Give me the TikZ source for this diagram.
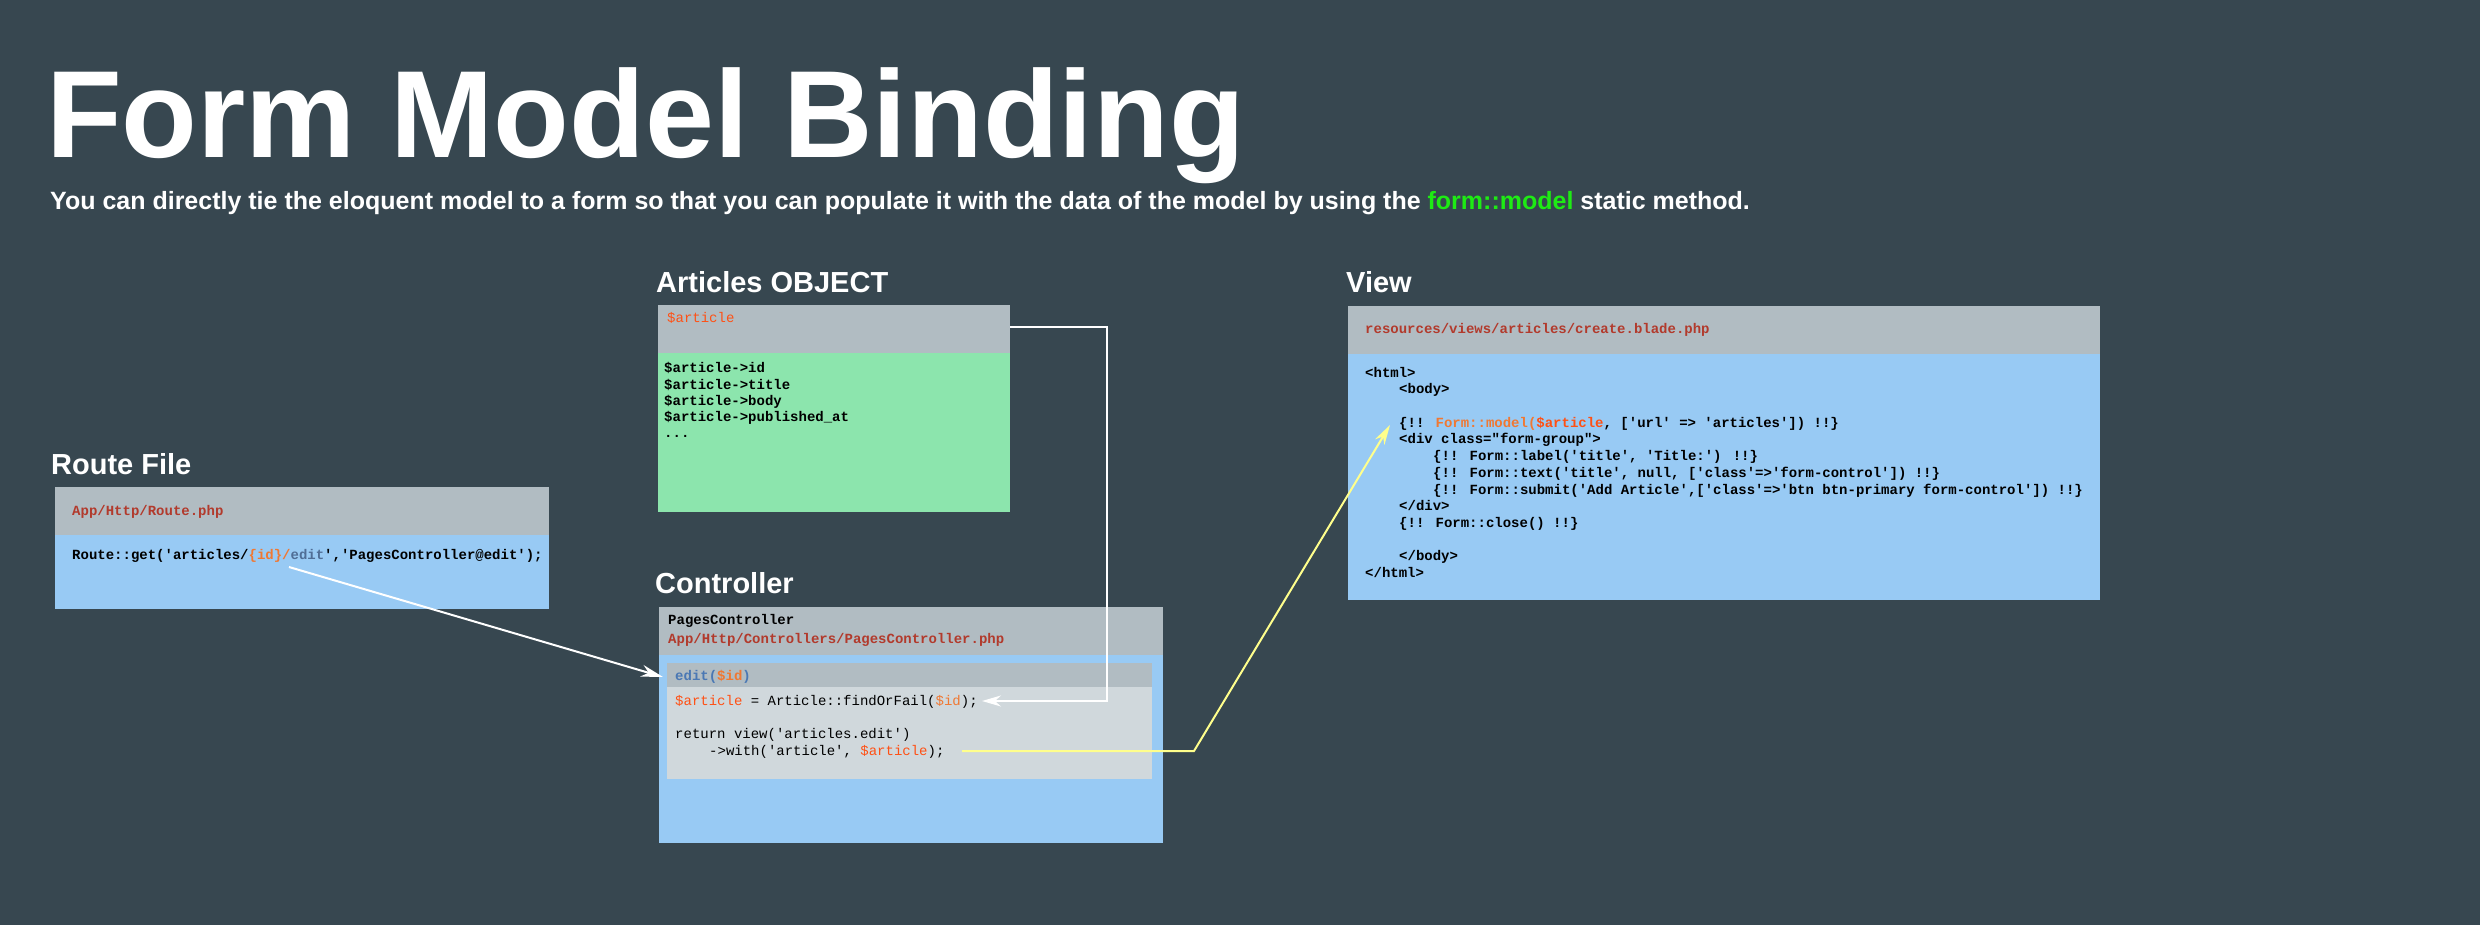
\documentclass[tikz,border=0pt]{standalone}
\usepackage{fontspec}
\setmainfont{Liberation Sans}
\newfontfamily\mono[Ligatures=TeXOff]{Liberation Mono}
\usetikzlibrary{arrows.meta,calc}
\definecolor{bg}{RGB}{55,71,80}
\definecolor{hdrgray}{RGB}{177,188,194}
\definecolor{boxblue}{RGB}{152,202,244}
\definecolor{boxgreen}{RGB}{140,229,173}
\definecolor{innergray}{RGB}{208,216,220}
\definecolor{pathred}{RGB}{178,58,44}
\definecolor{varred}{RGB}{255,80,20}
\definecolor{orng}{RGB}{240,120,50}
\definecolor{kwblue}{RGB}{74,120,180}
\definecolor{gblue}{RGB}{80,110,150}
\definecolor{yel}{RGB}{255,255,140}
\definecolor{brightgreen}{RGB}{30,235,20}
\tikzset{
  box/.style={anchor=north west, inner sep=0, outer sep=0, draw=none},
  lbl/.style={anchor=base west, inner sep=0, text=white, font=\fontsize{29}{29}\selectfont\bfseries},
  code/.style={anchor=base west, inner sep=0, font=\mono\fontsize{14}{14}\selectfont},
  bcode/.style={code, font=\mono\fontsize{14}{14}\selectfont\bfseries},
  wline/.style={draw=white, line width=2pt},
  yline/.style={draw=yel, line width=2pt},
}
\begin{document}
\begin{tikzpicture}[x=1pt, y=-1pt]
\useasboundingbox[fill=bg] (0,0) rectangle (2480,925);
% Title
\node[anchor=base west, inner sep=0, text=white, font=\fontsize{124}{124}\selectfont\bfseries] (title) at (46,158) {Form Model Binding};
\node[anchor=base west, inner sep=0, text=white, font=\fontsize{25}{25}\selectfont\bfseries] (subtitle) at (50,210) {You can directly tie the eloquent model to a form so that you can populate it with the data of the model by using the {\color{brightgreen}form::model} static method.};

% Route File
\node[lbl] (routelbl) at (51,474) {Route File};
\node[box, fill=hdrgray, minimum width=494, minimum height=48] (routehdr) at (55,487) {};
\node[box, fill=boxblue, minimum width=494, minimum height=74] (routebody) at (55,535) {};
\node[bcode, text=pathred] (routepath) at (72,515) {App/Http/Route.php};
\node[bcode] (routecode) at (72,559) {Route::get('articles/{\color{orng}\{id\}/}{\color{gblue}edit}','PagesController@edit');};

% Articles OBJECT
\node[lbl] (artlbl) at (656,292) {Articles OBJECT};
\node[box, fill=hdrgray, minimum width=352, minimum height=48] (arthdr) at (658,305) {};
\node[box, fill=boxgreen, minimum width=352, minimum height=159] (artbody) at (658,353) {};
\node[code, text=varred] (artvar) at (667,322) {\$article};
\node[bcode] (art1) at (664,372) {\$article->id};
\node[bcode] (art2) at (664,389) {\$article->title};
\node[bcode] (art3) at (664,405) {\$article->body};
\node[bcode] (art4) at (664,421) {\$article->published\_at};
\node[bcode] (art5) at (664,437) {...};

% Controller
\node[lbl] (ctrllbl) at (655,593) {Controller};
\node[box, fill=hdrgray, minimum width=504, minimum height=48] (ctrlhdr) at (659,607) {};
\node[box, fill=boxblue, minimum width=504, minimum height=188] (ctrlbody) at (659,655) {};
\node[bcode] (ctrlname) at (668,624) {PagesController};
\node[bcode, text=pathred] (ctrlpath) at (668,643) {App/Http/Controllers/PagesController.php};
\node[box, fill=hdrgray, minimum width=485, minimum height=24] (edithdr) at (667,663) {};
\node[box, fill=innergray, minimum width=485, minimum height=92] (editbody) at (667,687) {};
\node[bcode, text=kwblue] (editsig) at (675,680) {edit({\color{orng}\$id})};
\node[code] (find) at (675,705) {{\color{varred}\$article} = Article::findOrFail({\color{orng}\$id});};
\node[code] (ret1) at (675,738) {return view('articles.edit')};
\node[code] (ret2) at (709,755) {->with('article', {\color{varred}\$article});};

% View
\node[lbl] (viewlbl) at (1346,292) {View};
\node[box, fill=hdrgray, minimum width=752, minimum height=48] (viewhdr) at (1348,306) {};
\node[box, fill=boxblue, minimum width=752, minimum height=246] (viewbody) at (1348,354) {};
\node[bcode, text=pathred] (viewpath) at (1365,333) {resources/views/articles/create.blade.php};
\node[bcode] (v1) at (1365,377) {<html>};
\node[bcode] (v2) at (1399,393) {<body>};
\node[bcode] (v3) at (1399,427) {\{!! {\color{orng}Form::model(}{\color{varred}\$article}, ['url' => 'articles']) !!\}};
\node[bcode] (v4) at (1399,443) {<div class="form-group">};
\node[bcode] (v5) at (1433,460) {\{!! Form::label('title', 'Title:') !!\}};
\node[bcode] (v6) at (1433,477) {\{!! Form::text('title', null, ['class'=>'form-control']) !!\}};
\node[bcode] (v7) at (1433,494) {\{!! Form::submit('Add Article',['class'=>'btn btn-primary form-control']) !!\}};
\node[bcode] (v8) at (1399,510) {</div>};
\node[bcode] (v9) at (1399,527) {\{!! Form::close() !!\}};
\node[bcode] (v10) at (1399,560) {</body>};
\node[bcode] (v11) at (1365,577) {</html>};

% Connectors
\coordinate (rstart) at (289,567);
\draw[wline, -{Stealth[length=22pt, width=12pt]}] (rstart) -- ($(edithdr.west)+(-4,2)$);

\coordinate (aout) at (arthdr.east |- 0,327);
\coordinate (acorner1) at (1107,327);
\coordinate (acorner2) at (1107,701);
\coordinate (aend) at (982,701);
\draw[wline, -{Stealth[length=19pt, width=11pt]}] (aout) -- (acorner1) -- (acorner2) -- (aend);

\coordinate (ystart) at (962,751);
\coordinate (ycorner) at (1194,751);
\coordinate (yend) at (1390,425);
\draw[yline, -{Stealth[length=20pt, width=11pt]}] (ystart) -- (ycorner) -- (yend);
\end{tikzpicture}
\end{document}
